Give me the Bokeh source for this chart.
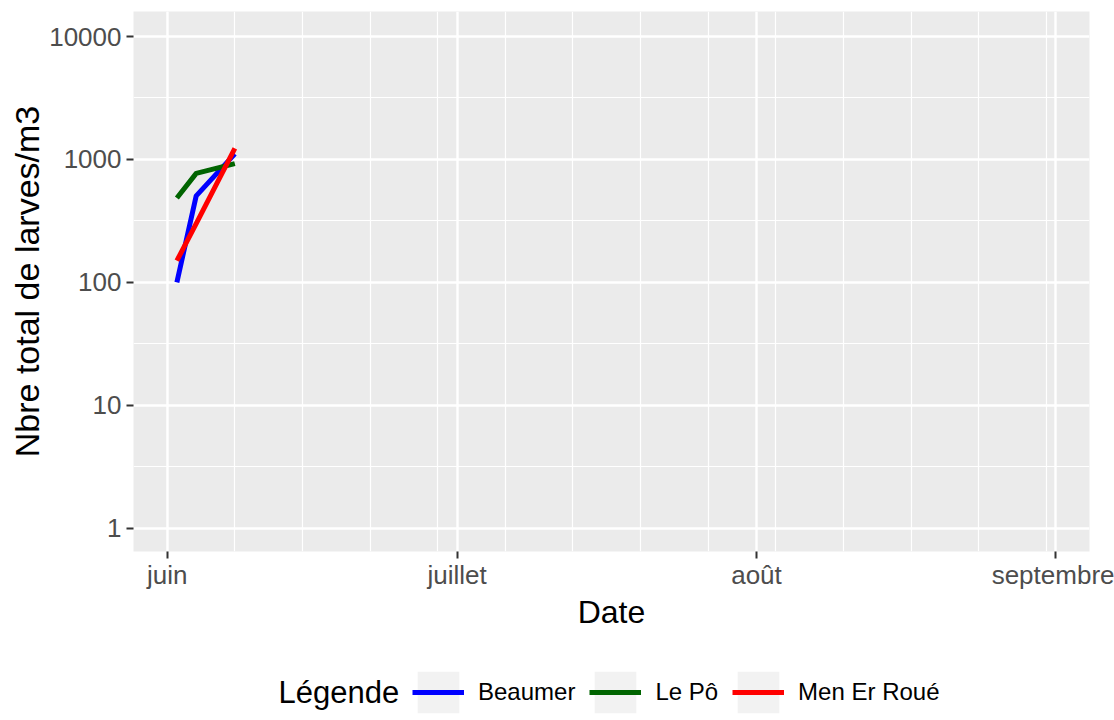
import pandas as pd
from bokeh.plotting import figure
from bokeh.layouts import column
from bokeh.models import Range1d, FixedTicker, Legend, LegendItem, ColumnDataSource, Label
from bokeh.embed import file_html
from bokeh.resources import INLINE

# ---- data ----
dates = ["2023-06-02", "2023-06-04", "2023-06-08"]
beaumer = [100, 505, 1110]
le_po = [485, 770, 925]
men_er_roue = [150, 300, 1230]

series_names = ["Beaumer", "Le Pô", "Men Er Roué"]
series_colors = ["#0000FF", "#006400", "#FF0000"]

x_tick_dates = ["2023-06-01", "2023-07-01", "2023-08-01", "2023-09-01"]
x_tick_labels = ["juin", "juillet", "août", "septembre"]
y_ticks = [1, 10, 100, 1000, 10000]
y_tick_labels = ["1", "10", "100", "1000", "10000"]

x_title = "Date"
y_title = "Nbre total de larves/m3"
legend_title = "Légende"

FONT = "Liberation Sans"
DAY = 86400000.0


def to_ms(d):
    return pd.Timestamp(d).value / 1e6


x_ms = [to_ms(d) for d in dates]
tick_ms = [to_ms(d) for d in x_tick_dates]
week_ms = [to_ms(d) for d in pd.date_range("2023-05-25", "2023-09-14", freq="7D")]

june1 = tick_ms[0]
p = figure(
    width=1114, height=640,
    x_axis_type="datetime", y_axis_type="log",
    x_range=Range1d(june1 - 3.49 * DAY, june1 + 95.47 * DAY),
    y_range=Range1d(10 ** -0.1896, 10 ** 4.2034),
    output_backend="svg", toolbar_location=None,
    min_border_left=133, min_border_right=25, min_border_top=11, min_border_bottom=89,
)
p.background_fill_color = "#EBEBEB"
p.border_fill_color = "white"
p.outline_line_color = None

# axes
p.xaxis.ticker = FixedTicker(ticks=tick_ms, minor_ticks=week_ms)
p.xaxis.major_label_overrides = {int(t): lab for t, lab in zip(tick_ms, x_tick_labels)}
p.yaxis.ticker = FixedTicker(ticks=y_ticks, minor_ticks=[10 ** (k + 0.5) for k in range(-1, 4)])
p.yaxis.major_label_overrides = {t: lab for t, lab in zip(y_ticks, y_tick_labels)}

for ax in (p.xaxis, p.yaxis):
    ax.axis_line_color = None
    ax.major_tick_line_color = "#333333"
    ax.major_tick_line_width = 2
    ax.major_tick_in = 0
    ax.major_tick_out = 7
    ax.minor_tick_line_color = None
    ax.major_label_text_font = FONT
    ax.major_label_text_font_size = "26px"
    ax.major_label_text_color = "#4D4D4D"
    ax.axis_label_text_font = FONT
    ax.axis_label_text_font_style = "normal"
    ax.axis_label_text_color = "black"

p.xaxis.axis_label = x_title
p.yaxis.axis_label = y_title
p.xaxis.axis_label_text_font_size = "32px"
p.yaxis.axis_label_text_font_size = "34px"
p.xaxis.major_label_standoff = 1
p.xaxis.axis_label_standoff = 1
p.yaxis.major_label_standoff = 5
p.yaxis.axis_label_standoff = 0

p.grid.grid_line_color = "white"
p.grid.grid_line_width = 2.4
p.grid.minor_grid_line_color = "white"
p.grid.minor_grid_line_width = 1.2

for name, vals, col in zip(series_names, [beaumer, le_po, men_er_roue], series_colors):
    src = ColumnDataSource(dict(x=x_ms, y=vals))
    p.line("x", "y", source=src, line_color=col, line_width=5, line_join="round")

# ---- legend strip below the plot (frame aligned with the plot frame: x from 133 px) ----
lf = figure(
    width=1114, height=80, x_range=Range1d(0, 1), y_range=Range1d(0, 1),
    x_axis_type=None, y_axis_type=None,
    output_backend="svg", toolbar_location=None, min_border=0,
)
lf.outline_line_color = None
lf.background_fill_color = "white"
lf.border_fill_color = "white"
lf.grid.visible = False

lf.add_layout(Label(
    x=145, y=28, x_units="screen", y_units="screen", text=legend_title,
    text_font=FONT, text_font_size="31px", text_color="black",
    text_baseline="middle", text_align="left",
))

# legend-only renderers: their data lie outside the strip's visible range
bg = lf.rect(x=[5], y=[5], width=1, height=1, fill_color="#F2F2F2", line_color=None)
items = []
for name, col in zip(series_names, series_colors):
    r = lf.line(x=[5, 6], y=[5, 5], line_color=col, line_width=5)
    items.append(LegendItem(label=name, renderers=[bg, r]))

legend = Legend(
    items=items, orientation="horizontal", location=(279, 2),
    label_text_font=FONT, label_text_font_size="24px", label_text_color="black",
    glyph_width=52, glyph_height=52, label_standoff=14, spacing=14,
    padding=0, margin=0, border_line_color=None, background_fill_alpha=0,
)
lf.add_layout(legend)

layout = column(p, lf, spacing=0)
open("out.html", "w").write(file_html(layout, INLINE))
